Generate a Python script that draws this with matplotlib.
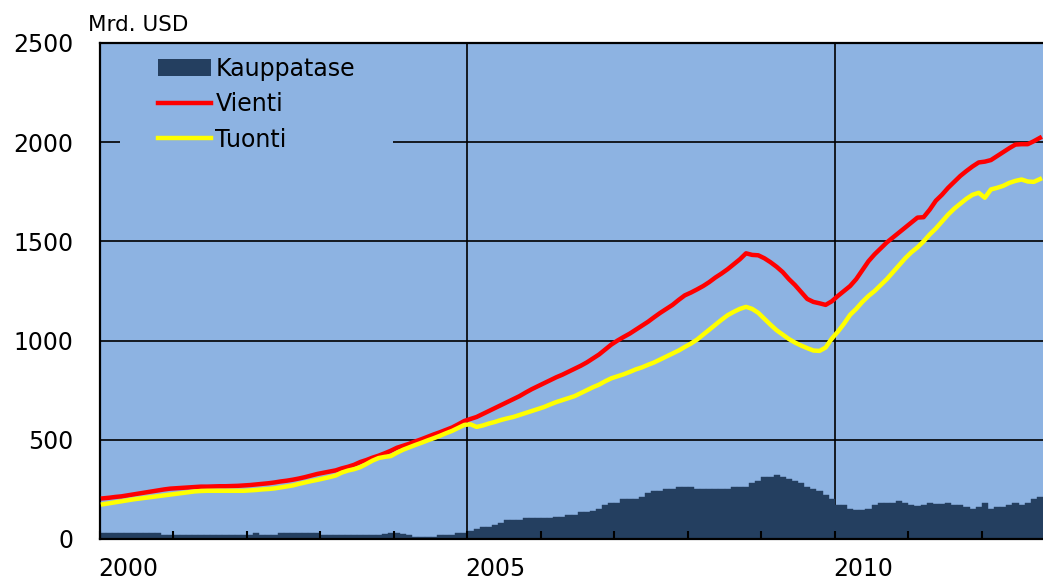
import numpy as np
import matplotlib
matplotlib.use("Agg")
import matplotlib.pyplot as plt
from matplotlib.patches import Patch
from matplotlib.lines import Line2D
from matplotlib.ticker import MultipleLocator, FixedLocator, NullFormatter

# --- data (Mrd. USD, monthly, Jan 2000 - Oct 2012) ---
start_year = 2000
vienti = [
    205, 208, 212, 215, 220, 225, 230, 235, 240, 245, 250, 254,      # 2000
    256, 258, 260, 262, 264, 264, 265, 266, 266, 267, 268, 270,      # 2001
    272, 275, 278, 281, 285, 290, 294, 299, 305, 312, 320, 328,      # 2002
    334, 340, 346, 356, 364, 374, 388, 398, 410, 420, 432, 445,      # 2003
    460, 470, 480, 492, 503, 515, 527, 538, 550, 562, 578, 595,      # 2004
    605, 615, 630, 645, 660, 675, 690, 705, 720, 738, 755, 770,      # 2005
    785, 800, 815, 828, 843, 858, 873, 890, 910, 930, 955, 980,      # 2006
    1000, 1018, 1035, 1055, 1075, 1095, 1118, 1140, 1160, 1180, 1205, 1228,  # 2007
    1242, 1258, 1275, 1295, 1318, 1338, 1360, 1385, 1410, 1440, 1432, 1430,  # 2008
    1415, 1395, 1372, 1345, 1310, 1280, 1245, 1210, 1195, 1188, 1180, 1198,  # 2009
    1225, 1250, 1275, 1310, 1355, 1400, 1435, 1465, 1495, 1520, 1545, 1570,  # 2010
    1595, 1620, 1622, 1660, 1705, 1735, 1770, 1800, 1830, 1855, 1878, 1898,  # 2011
    1902, 1910, 1930, 1950, 1970, 1988, 1990, 1990, 2005, 2022,              # 2012
]
tuonti = [
    175, 180, 185, 190, 195, 200, 204, 208, 212, 216, 220, 224,      # 2000
    228, 232, 236, 240, 242, 243, 243, 243, 243, 243, 243, 243,      # 2001
    245, 247, 250, 252, 255, 260, 265, 270, 278, 285, 292, 298,      # 2002
    305, 312, 320, 335, 345, 352, 362, 378, 395, 408, 414, 418,      # 2003
    435, 450, 462, 474, 485, 497, 508, 520, 533, 545, 560, 575,      # 2004
    578, 565, 572, 582, 590, 600, 608, 615, 625, 635, 645, 655,      # 2005
    665, 678, 690, 700, 710, 720, 735, 750, 765, 778, 795, 810,      # 2006
    820, 830, 842, 855, 865, 878, 890, 905, 920, 935, 950, 968,      # 2007
    985, 1005, 1030, 1055, 1080, 1105, 1128, 1145, 1160, 1170, 1160, 1140,   # 2008
    1110, 1080, 1052, 1030, 1008, 990, 975, 962, 950, 948, 965, 1010,       # 2009
    1045, 1085, 1130, 1160, 1195, 1225, 1250, 1280, 1310, 1345, 1380, 1415,  # 2010
    1445, 1470, 1500, 1535, 1565, 1600, 1635, 1665, 1690, 1715, 1735, 1745,  # 2011
    1720, 1762, 1770, 1780, 1795, 1805, 1812, 1802, 1800, 1814,              # 2012
]
kauppatase = [
    32, 32, 32, 32, 32, 32, 32, 32, 32, 32, 20, 20,                  # 2000
    20, 20, 20, 20, 20, 20, 20, 20, 20, 20, 20, 20,                  # 2001
    20, 32, 20, 20, 20, 32, 32, 32, 32, 32, 32, 32,                  # 2002
    20, 20, 20, 20, 20, 20, 20, 20, 22, 22, 24, 32,                  # 2003
    32, 24, 18, 12, 12, 12, 12, 22, 22, 22, 32, 32,                  # 2004
    42, 52, 62, 62, 71, 82, 94, 94, 94, 104, 104, 104,               # 2005
    104, 104, 112, 112, 122, 122, 134, 134, 143, 153, 171, 183,      # 2006
    183, 202, 202, 202, 212, 233, 243, 243, 252, 252, 264, 264,      # 2007
    264, 254, 254, 254, 254, 254, 254, 264, 264, 264, 284, 294,      # 2008
    314, 314, 324, 314, 304, 294, 284, 264, 254, 243, 223, 203,      # 2009
    173, 173, 153, 145, 145, 153, 173, 183, 183, 183, 192, 183,      # 2010
    173, 165, 173, 183, 174, 174, 183, 173, 173, 162, 153, 162,      # 2011
    183, 153, 162, 162, 173, 183, 173, 183, 203, 213,                # 2012
]
labels = ["Kauppatase", "Vienti", "Tuonti"]
label_years = [2000, 2005, 2010]
y_ticks = [0, 500, 1000, 1500, 2000, 2500]
unit_label = "Mrd. USD"

# --- style ---
bg = "#8db3e2"
bar_c = "#243f60"
red = "#ff0000"
yellow = "#ffff00"
plt.rcParams["font.family"] = ["DejaVu Sans"]

n = len(vienti)
t = start_year + (np.arange(n) + 0.5) / 12.0

fig = plt.figure(figsize=(10.43, 5.83), dpi=100)
ax = fig.add_axes([100 / 1043, 1 - 539 / 583, 943 / 1043, 496 / 583])
ax.set_facecolor(bg)

ax.bar(t, kauppatase, width=1 / 12.0, color=bar_c, edgecolor=bar_c, lw=0.3, zorder=1)
ax.plot(t, vienti, color=red, lw=3.2, zorder=3, solid_joinstyle="round")
ax.plot(t, tuonti, color=yellow, lw=3.2, zorder=3, solid_joinstyle="round")

# grid (below the bars, ticks stay on top)
for v in y_ticks[1:-1]:
    ax.axhline(v, color="black", lw=1.2, zorder=0.8)
for yr in label_years[1:]:
    ax.axvline(yr, color="black", lw=1.2, zorder=0.8)

ax.set_xlim(start_year, start_year + n / 12.0)
ax.set_ylim(y_ticks[0], y_ticks[-1])

ax.set_yticks(y_ticks)
ax.tick_params(axis="y", length=0, pad=19, labelsize=17)

ax.xaxis.set_major_locator(MultipleLocator(1))
ax.xaxis.set_major_formatter(NullFormatter())
ax.xaxis.set_minor_locator(FixedLocator([y + 0.38 for y in label_years]))
ax.set_xticklabels([str(y) for y in label_years], minor=True)
ax.tick_params(axis="x", which="major", direction="in", length=5.5, width=1.5)
ax.tick_params(axis="x", which="minor", length=0, pad=13, labelsize=17)

for s in ["left", "bottom", "top"]:
    ax.spines[s].set_linewidth(1.6)
    ax.spines[s].set_color("black")
ax.spines["right"].set_visible(False)

handles = [
    Patch(facecolor=bar_c, edgecolor="none"),
    Line2D([], [], color=red, lw=3.2),
    Line2D([], [], color=yellow, lw=3.2),
]
leg = ax.legend(handles, labels, loc="upper left", bbox_to_anchor=(0.0085, 1.072),
                fontsize=17, frameon=True, facecolor=bg, edgecolor="none", framealpha=1,
                borderpad=1.6, labelspacing=0.48, handlelength=2.25, handleheight=0.7,
                handletextpad=0.2, fancybox=False)
leg.set_zorder(1.2)
leg.legendPatch.set_clip_box(ax.bbox)
leg.legendPatch.set_clip_on(True)

fig.text(88 / 1043, 1 - 25 / 583, unit_label, fontsize=15.5, ha="left", va="center")

fig.savefig("out.png", dpi=100)
